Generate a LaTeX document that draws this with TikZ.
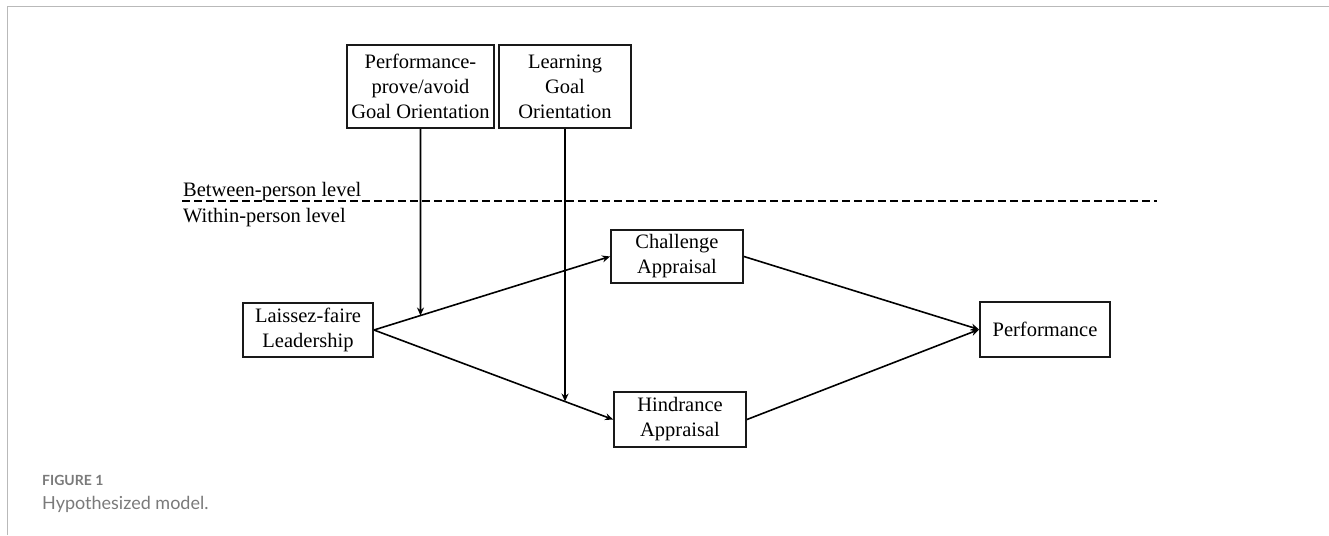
\documentclass[tikz,border=0pt]{standalone}
\usepackage{fontspec}
\setmainfont{Liberation Serif}
\newfontfamily\capfont{Lato}
\usetikzlibrary{arrows.meta}
\definecolor{capgray}{HTML}{7A7A7A}

\begin{document}
\begin{tikzpicture}[x=1pt, y=-1pt,
    box/.style={draw=black!90, line width=1.9pt, align=center, inner sep=0pt,
        font=\fontsize{20.5}{25}\selectfont},
    link/.style={line width=1.6pt, -{Stealth[length=8pt,width=7pt]}}]
    \useasboundingbox (0,0) rectangle (1329,535);

    % Frame
    \draw[gray!55, line width=1.5pt] (7.5,535) -- (7.5,6.5) -- (1329,6.5);

    % Draw nodes
    \node[box, minimum width=147pt, minimum height=83pt] (pp) at (420.5,86.5) {Performance-\\prove/avoid\\Goal Orientation};
    \node[box, minimum width=132pt, minimum height=83pt] (lg) at (565,86.5) {Learning\\Goal\\Orientation};
    \node[box, minimum width=130pt, minimum height=54pt] (lf) at (308,330) {Laissez-faire\\Leadership};
    \node[box, minimum width=132pt, minimum height=53pt] (ch) at (677,256.5) {Challenge\\Appraisal};
    \node[box, minimum width=132pt, minimum height=55pt] (hi) at (680,419.5) {Hindrance\\Appraisal};
    \node[box, minimum width=130pt, minimum height=55pt] (perf) at (1045,329.5) {Performance};

    % Levels
    \coordinate (dl) at (182,201);
    \coordinate (dr) at (1157,201);
    \draw[line width=1.5pt, dash pattern=on 8pt off 4pt] (dl) -- (dr);
    \node[anchor=base west, inner sep=0pt, font=\fontsize{20.5}{25}\selectfont] (btw) at (183,196) {Between-person level};
    \node[anchor=base west, inner sep=0pt, font=\fontsize{20.5}{25}\selectfont] (wth) at (183,222) {Within-person level};

    % Draw connections
    \draw[link] (lf.east) -- (ch.west);
    \draw[link] (lf.east) -- (hi.west);
    \draw[link] (ch.east) -- (perf.west);
    \draw[link] (hi.east) -- (perf.west);

    % Moderators
    \coordinate (m1) at (intersection of lf.east--ch.west and pp.south--{pp.south|-lf.south});
    \coordinate (m2) at (intersection of lf.east--hi.west and lg.south--{lg.south|-hi.south});
    \draw[link] (pp.south) -- (m1);
    \draw[link] (lg.south) -- (m2);

    % Caption
    \node[anchor=base west, inner sep=0pt, text=capgray, font=\capfont\bfseries\fontsize{14}{16}\selectfont] (fig) at (42,485) {FIGURE 1};
    \node[anchor=base west, inner sep=0pt, text=capgray, font=\capfont\fontsize{18}{20}\selectfont] (cap) at (42,509) {Hypothesized model.};
\end{tikzpicture}
\end{document}
